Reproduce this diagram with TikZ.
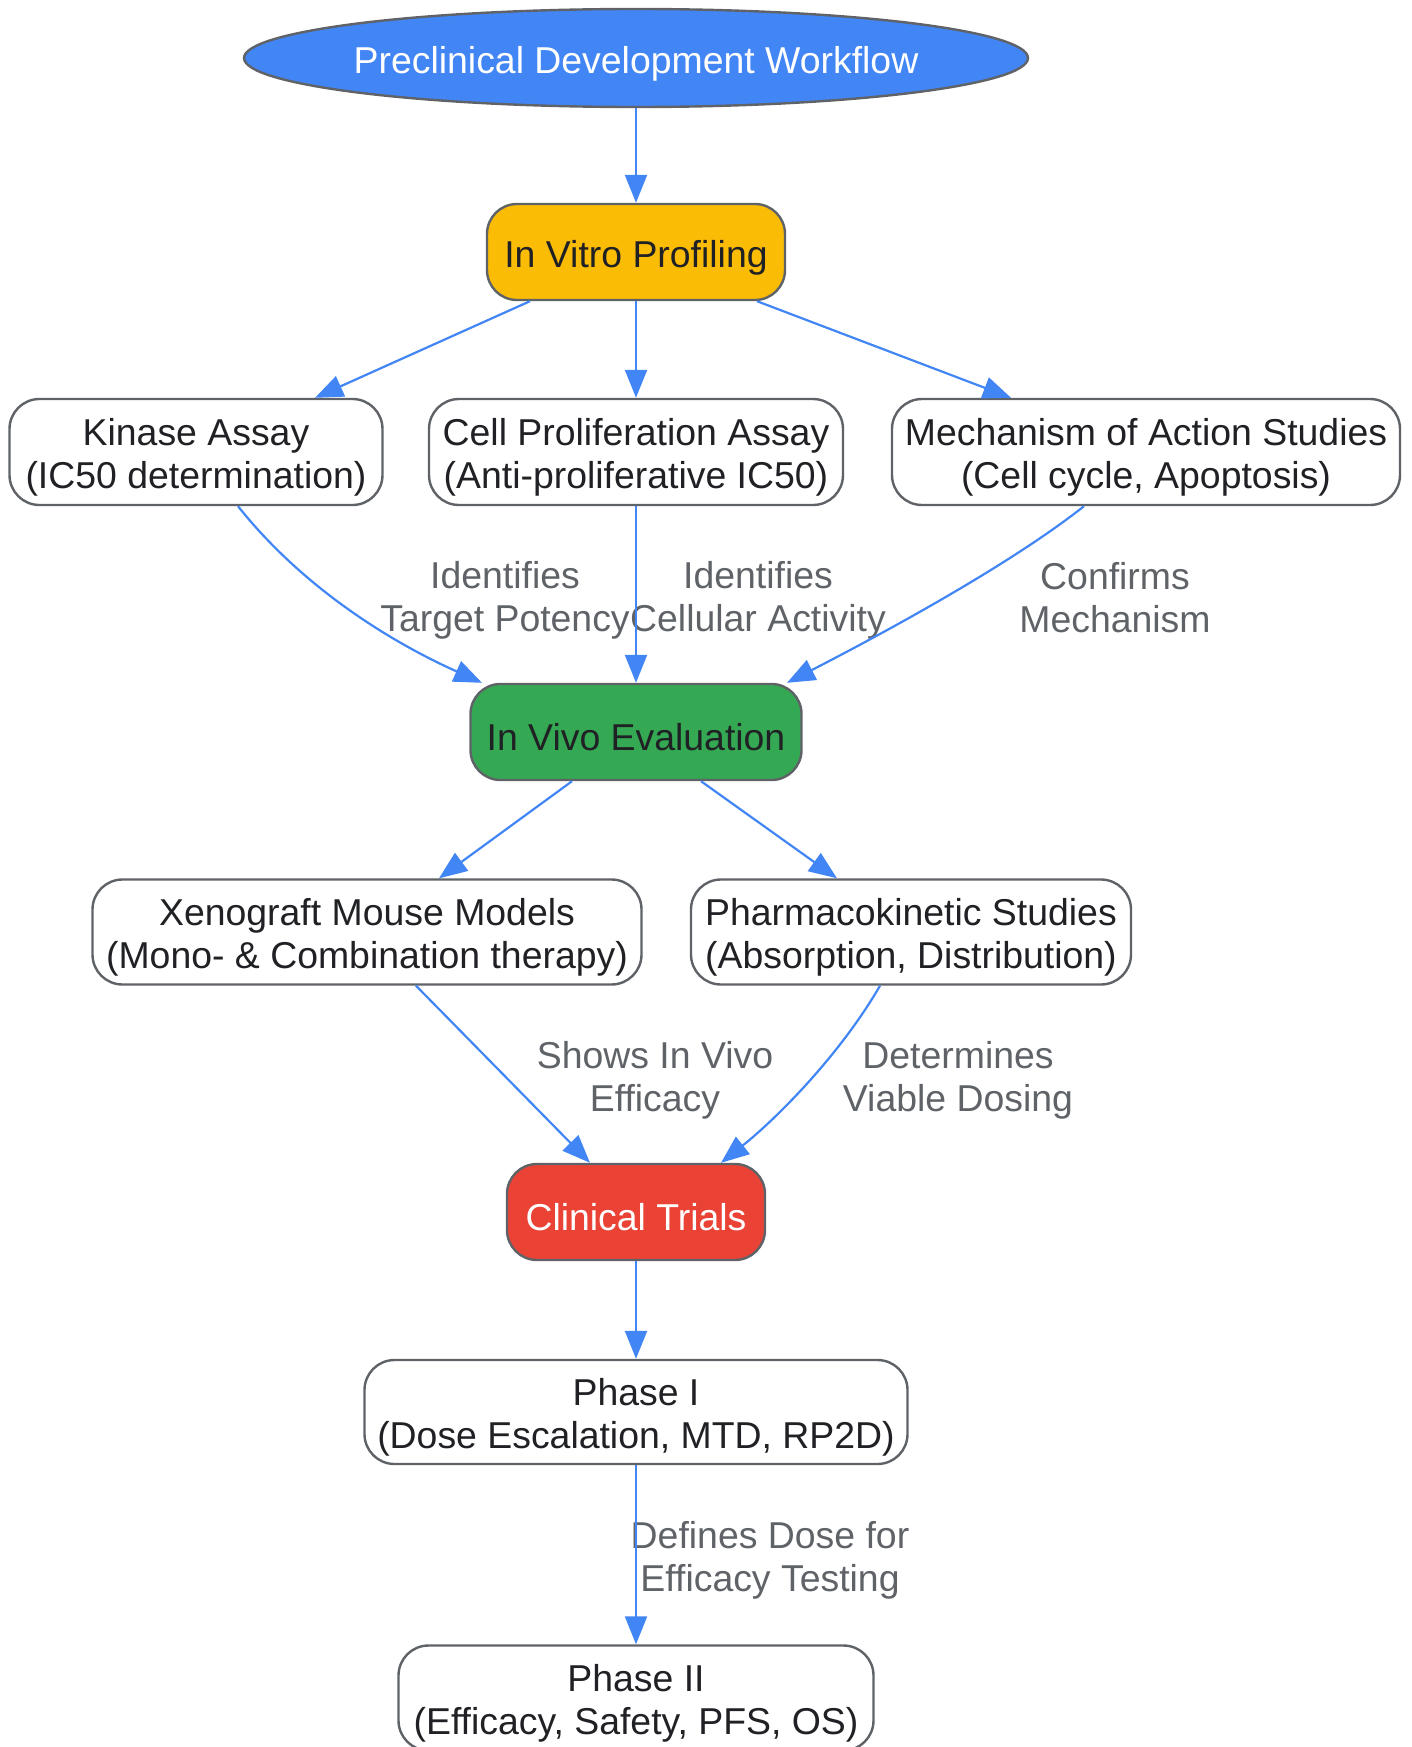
\documentclass[tikz,border=0pt]{standalone}
\usepackage{fontspec}
\setmainfont{Liberation Sans}
\usetikzlibrary{shapes.geometric,arrows.meta}
\definecolor{gblue}{HTML}{4285F4}
\definecolor{gyellow}{HTML}{FBBC05}
\definecolor{ggreen}{HTML}{34A853}
\definecolor{gred}{HTML}{EA4335}
\definecolor{bordergray}{HTML}{5F6368}
\definecolor{labelgray}{HTML}{5F6368}
\definecolor{textdark}{HTML}{202124}
\newcommand{\topstrut}{\rule{0pt}{38pt}}
\tikzset{
  box/.style={draw=bordergray, line width=2.4pt, rounded corners=30pt, fill=white,
    align=center, inner sep=0pt, minimum height=105pt, text=textdark,
    font=\fontsize{37.4}{43}\selectfont},
  hubbox/.style={box, minimum height=96pt},
  elabel/.style={align=center, inner sep=0pt, text=labelgray,
    font=\fontsize{37.4}{43}\selectfont},
  conn/.style={draw=gblue, line width=2.2pt, -{Triangle[length=28pt,width=22pt]}},
}
\begin{document}
\begin{tikzpicture}[x=1pt,y=-1pt]
\useasboundingbox (0,0) rectangle (1411,1747);
\begin{scope}
\clip (0,0) rectangle (1411,1747);

\node[ellipse, draw=bordergray, line width=2.4pt, fill=gblue, text=white,
  minimum width=784pt, minimum height=98pt, inner xsep=-10pt, inner ysep=0pt,
  font=\fontsize{37.4}{43}\selectfont] (title) at (636,58) {\topstrut Preclinical Development Workflow};

\node[hubbox, fill=gyellow, minimum width=298pt] (vitro) at (636,252) {\topstrut In Vitro Profiling};

\node[box, minimum width=373pt, minimum height=106pt] (kin) at (196,452) {\topstrut Kinase Assay\\(IC50 determination)};
\node[box, minimum width=414pt, minimum height=106pt] (cell) at (636,452) {\topstrut Cell Proliferation Assay\\(Anti-proliferative IC50)};
\node[box, minimum width=508pt, minimum height=106pt] (mech) at (1146,452) {\topstrut Mechanism of Action Studies\\(Cell cycle, Apoptosis)};

\node[hubbox, fill=ggreen, minimum width=331pt] (iv) at (636,732) {\topstrut In Vivo Evaluation};

\node[box, minimum width=549pt] (xeno) at (367,932) {\topstrut Xenograft Mouse Models\\(Mono- \& Combination therapy)};
\node[box, minimum width=440pt] (pk) at (911,932) {\topstrut Pharmacokinetic Studies\\(Absorption, Distribution)};

\node[hubbox, fill=gred, text=white, minimum width=258pt] (clin) at (636,1212) {\topstrut Clinical Trials};

\node[box, minimum width=543pt, minimum height=104pt] (p1) at (636,1412) {\topstrut Phase I\\(Dose Escalation, MTD, RP2D)};
\node[box, minimum width=475pt] (p2) at (636,1698) {\topstrut Phase II\\(Efficacy, Safety, PFS, OS)};

% edge labels
\node[elabel] (l1) at (505,600) {Identifies\\Target Potency};
\node[elabel] (l2) at (758,600) {Identifies\\Cellular Activity};
\node[elabel] (l3) at (1115,598) {Confirms\\Mechanism};
\node[elabel] (l4) at (655,1080) {Shows In Vivo\\Efficacy};
\node[elabel] (l5) at (958,1080) {Determines\\Viable Dosing};
\node[elabel] (l6) at (770,1560) {Defines Dose for\\Efficacy Testing};

% connectors
\draw[conn] (title.south) -- (vitro.north);
\draw[conn] ([xshift=-106pt]vitro.south) -- ([xshift=119pt]kin.north);
\draw[conn] (vitro.south) -- (cell.north);
\draw[conn] ([xshift=121pt]vitro.south) -- ([xshift=-135pt]mech.north);

\draw[conn] ([xshift=42pt]kin.south) .. controls (303,588) and (391,642) .. ([xshift=-154pt]iv.north);
\draw[conn] (cell.south) -- (iv.north);
\draw[conn] ([xshift=-62pt]mech.south) .. controls (1007,567) and (876,637) .. ([xshift=151pt]iv.north);

\draw[conn] ([xshift=-64pt]iv.south) -- ([xshift=72pt]xeno.north);
\draw[conn] ([xshift=65pt]iv.south) -- ([xshift=-74pt]pk.north);

\draw[conn] ([xshift=49pt]xeno.south) -- ([xshift=-46pt]clin.north);
\draw[conn] ([xshift=-31pt]pk.south) .. controls (840,1055) and (776,1119) .. ([xshift=85pt]clin.north);

\draw[conn] (clin.south) -- (p1.north);
\draw[conn] (p1.south) -- (p2.north);
\end{scope}
\end{tikzpicture}
\end{document}
